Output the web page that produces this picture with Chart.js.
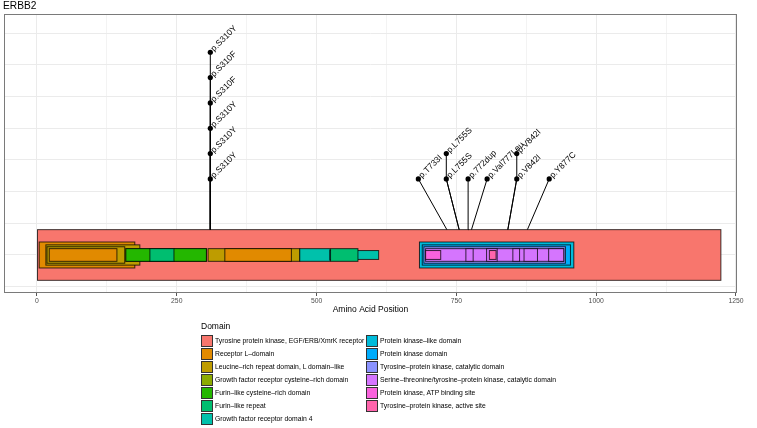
<!DOCTYPE html>
<html>
<head>
<meta charset="utf-8">
<script src="https://cdn.jsdelivr.net/npm/chart.js@4"></script>
<style>
  body { margin: 0; background: #fff; font-family: "Liberation Sans", Arial, sans-serif; }
  #wrap { position: relative; width: 757px; height: 428px; }
  #legend { position: absolute; left: 0; top: 0; }
  .lg-title { position: absolute; left: 201px; top: 321px; font-size: 8.5px; color: #000; white-space: nowrap; }
  .lg-item { position: absolute; height: 11px; font-size: 6.8px; color: #000; white-space: nowrap; }
  .lg-key { position: absolute; left: 0; top: 0; width: 10px; height: 10px; border: 1px solid #333; }
  .lg-text { position: absolute; left: 14px; top: 0; line-height: 12px; }
</style>
</head>
<body>
<div id="wrap">
  <canvas id="chart" width="757" height="428"></canvas>
  <div id="legend"></div>
</div>
<script>
// domain types (legend order)
const domainNames = [
    'Tyrosine protein kinase, EGF/ERB/XmrK receptor',
    'Receptor L–domain',
    'Leucine–rich repeat domain, L domain–like',
    'Growth factor receptor cysteine–rich domain',
    'Furin–like cysteine–rich domain',
    'Furin–like repeat',
    'Growth factor receptor domain 4',
    'Protein kinase–like domain',
    'Protein kinase domain',
    'Tyrosine–protein kinase, catalytic domain',
    'Serine–threonine/tyrosine–protein kinase, catalytic domain',
    'Protein kinase, ATP binding site',
    'Tyrosine–protein kinase, active site'
];
const domainColors = ['#F8766D', '#E18A00', '#BE9C00', '#8CAB00', '#24B700', '#00BE70', '#00C1AB',
    '#00BBDA', '#00ACFC', '#8B93FF', '#D575FE', '#F962DD', '#FF65AC'];

// domain segments, in drawing order
const segType  = [0, 1, 2, 2, 1, 3, 4, 5, 2, 1, 6, 6, 5, 7, 8, 9, 10, 10, 10, 10, 10, 10, 11, 12];
const segStart = [1, 4, 16, 18, 22, 159, 159, 202, 306, 336, 470, 524, 525, 684, 689, 692, 695, 767, 804, 851, 871, 915, 695, 809];
const segEnd   = [1223, 175, 184, 157, 143, 303, 303, 245, 470, 455, 524, 611, 574, 960, 954, 945, 942, 780, 823, 863, 895, 942, 722, 821];
const segLevel = [0, 1, 2, 3, 4, 4, 4, 4, 4, 4, 4, 5, 4, 1, 2, 3, 4, 4, 4, 4, 4, 4, 5, 5];

// mutations: real position, label position after dodging, stack height
const mutLabels = ['p.S310Y', 'p.S310Y', 'p.S310Y', 'p.S310F', 'p.S310F', 'p.S310Y',
    'p.T733I', 'p.L755S', 'p.L755S', 'p.772dup', 'p.Val777Leu', 'p.V842I', 'p.V842I', 'p.Y877C'];
const mutPos = [310, 310, 310, 310, 310, 310, 733, 755, 755, 772, 777, 842, 842, 877];
const mutX   = [310, 310, 310, 310, 310, 310, 682, 732, 732, 771, 805, 858, 858, 916];
const mutY   = [3.4, 4.2, 5.0, 5.8, 6.6, 7.4, 3.4, 3.4, 4.2, 3.4, 3.4, 3.4, 4.2, 3.4];

const xTicks = [0, 250, 500, 750, 1000, 1250];

const FONT = '"Liberation Sans", Arial, sans-serif';
const halfHeights = [0.8, 0.41, 0.32, 0.26, 0.2, 0.14];
const domainTop = 1 + halfHeights[0];
const firstRow = 3.4;

const stems = mutLabels.map((lab, i) => ({
    type: 'scatter',
    showLine: true,
    data: [{x: mutPos[i], y: domainTop}, {x: mutX[i], y: firstRow}, {x: mutX[i], y: mutY[i]}],
    borderColor: '#000',
    borderWidth: 1,
    pointRadius: 0
}));

const points = {
    data: mutX.map((x, i) => ({x: x, y: mutY[i]})),
    backgroundColor: '#000',
    borderWidth: 0,
    pointRadius: 2.6
};

const domainPlugin = {
    id: 'domains',
    beforeDatasetsDraw(chart) {
        const {ctx, scales: {x, y}} = chart;
        ctx.save();
        segType.forEach((t, i) => {
            const h = halfHeights[segLevel[i]];
            const x1 = x.getPixelForValue(segStart[i]);
            const x2 = x.getPixelForValue(segEnd[i]);
            const y1 = y.getPixelForValue(1 + h);
            const y2 = y.getPixelForValue(1 - h);
            ctx.fillStyle = domainColors[t];
            ctx.fillRect(x1, y1, x2 - x1, y2 - y1);
            ctx.strokeStyle = 'rgba(0,0,0,0.75)';
            ctx.lineWidth = 1;
            ctx.strokeRect(x1, y1, x2 - x1, y2 - y1);
        });
        ctx.restore();
    }
};

const labelPlugin = {
    id: 'mutLabels',
    afterDatasetsDraw(chart) {
        const {ctx, scales: {x, y}} = chart;
        ctx.save();
        ctx.fillStyle = '#000';
        ctx.font = '8.5px ' + FONT;
        ctx.textAlign = 'left';
        ctx.textBaseline = 'middle';
        mutLabels.forEach((lab, i) => {
            ctx.save();
            ctx.translate(x.getPixelForValue(mutX[i]), y.getPixelForValue(mutY[i]));
            ctx.rotate(-Math.PI / 4);
            ctx.fillText(lab, 3, 0);
            ctx.restore();
        });
        ctx.restore();
    }
};

const borderPlugin = {
    id: 'panelBorder',
    afterDraw(chart) {
        const {ctx, chartArea: a} = chart;
        ctx.save();
        ctx.strokeStyle = '#7a7a7a';
        ctx.lineWidth = 1;
        ctx.strokeRect(Math.round(a.left) + 0.5, Math.round(a.top) + 0.5,
            Math.round(a.right - a.left) - 1, Math.round(a.bottom - a.top) - 1);
        ctx.restore();
    }
};

new Chart(document.getElementById('chart').getContext('2d'), {
    type: 'scatter',
    data: { datasets: [...stems, points] },
    options: {
        responsive: false,
        animation: false,
        devicePixelRatio: 1,
        layout: { padding: { left: 3, right: 20, top: 0, bottom: 110 } },
        plugins: {
            legend: { display: false },
            tooltip: { enabled: false },
            title: {
                display: true,
                text: 'ERBB2',
                align: 'start',
                color: '#000',
                font: { family: FONT, size: 10.2, weight: 'normal' },
                padding: { top: 0, bottom: 2 }
            }
        },
        scales: {
            x: {
                type: 'linear',
                min: -58.9,
                max: 1251.8,
                afterFit: s => { s.height = 25; },
                ticks: {
                    stepSize: 125,
                    includeBounds: false,
                    autoSkip: false,
                    maxRotation: 0,
                    padding: 1,
                    color: '#4D4D4D',
                    font: { family: FONT, size: 6.8 },
                    callback: v => xTicks.includes(v) ? String(v) : ''
                },
                grid: {
                    color: '#EBEBEB',
                    lineWidth: c => xTicks.includes(c.tick && c.tick.value) ? 1 : 0.6,
                    tickLength: 3,
                    tickColor: c => xTicks.includes(c.tick && c.tick.value) ? '#555' : 'rgba(0,0,0,0)'
                },
                border: { display: false },
                title: {
                    display: true,
                    text: 'Amino Acid Position',
                    color: '#000',
                    font: { family: FONT, size: 8.5 },
                    padding: { top: 0, bottom: 3.2 }
                }
            },
            y: {
                type: 'linear',
                min: -0.2,
                max: 8.6,
                afterFit: s => { s.width = 0; },
                ticks: { display: false, stepSize: 1, includeBounds: false },
                grid: { color: '#EBEBEB', drawTicks: false },
                border: { display: false }
            }
        }
    },
    plugins: [domainPlugin, labelPlugin, borderPlugin]
});

// legend, two columns
const legend = document.getElementById('legend');
const lt = document.createElement('div');
lt.className = 'lg-title';
lt.textContent = 'Domain';
legend.appendChild(lt);
domainNames.forEach((name, i) => {
    const col = i < 7 ? 0 : 1;
    const row = i < 7 ? i : i - 7;
    const item = document.createElement('div');
    item.className = 'lg-item';
    item.style.left = (col === 0 ? 201 : 366) + 'px';
    item.style.top = (335 + row * 13) + 'px';
    const key = document.createElement('div');
    key.className = 'lg-key';
    key.style.background = domainColors[i];
    const txt = document.createElement('div');
    txt.className = 'lg-text';
    txt.textContent = name;
    item.appendChild(key);
    item.appendChild(txt);
    legend.appendChild(item);
});
</script>
</body>
</html>
